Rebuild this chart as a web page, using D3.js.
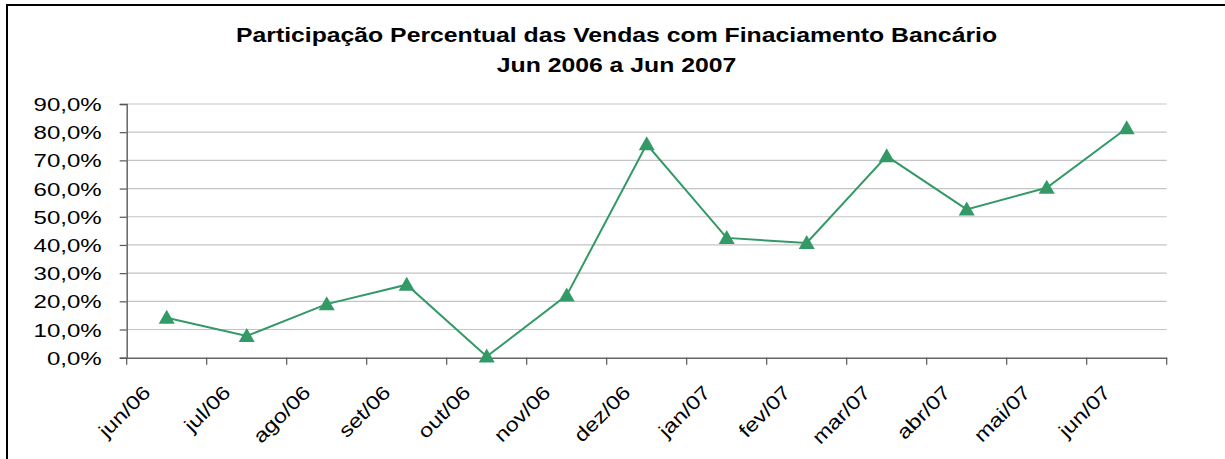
<!DOCTYPE html>
<html>
<head>
<meta charset="utf-8">
<script src="https://cdn.jsdelivr.net/npm/d3@7"></script>
<style>
  body { margin: 0; background: #fff; }
  svg { display: block; font-family: "Liberation Sans", Arial, sans-serif; }
</style>
</head>
<body>
<svg id="chart" width="1225" height="459"></svg>
<script>
(function(){
    // data ---------------------------------
    var months = ['jun/06','jul/06','ago/06','set/06','out/06','nov/06','dez/06',
                  'jan/07','fev/07','mar/07','abr/07','mai/07','jun/07'];
    var share = [14.2, 7.7, 19.0, 25.9, 0.4, 22.1, 75.7, 42.5, 40.7, 71.5, 52.6, 60.3, 81.4];
    var yTicks = [0, 10, 20, 30, 40, 50, 60, 70, 80, 90];
    var titleLines = ['Participação Percentual das Vendas com Finaciamento Bancário',
                      'Jun 2006 a Jun 2007'];

    var W = 1225, H = 459;
    var m = {left: 126.7, right: 1166.7, top: 104, bottom: 357.7};
    var SX = 1.3;   // the picture is stretched sideways
    var green = '#339966';

    var svg = d3.select('#chart');

    // outer frame
    svg.append('rect')
        .attr('x', 7).attr('y', 5)
        .attr('width', W + 20).attr('height', H + 20)
        .attr('fill', 'none')
        .attr('stroke', '#000')
        .attr('stroke-width', 2);

    var x = d3.scaleBand().domain(months).range([m.left, m.right]).padding(0);
    var y = d3.scaleLinear().domain([0, 90]).range([m.bottom, m.top]);

    // gridlines
    svg.append('g').selectAll('line')
        .data(yTicks.slice(1))
        .enter().append('line')
        .attr('x1', m.left).attr('x2', m.right)
        .attr('y1', function(d){ return y(d) }).attr('y2', function(d){ return y(d) })
        .attr('stroke', '#c4c4c4')
        .attr('stroke-width', 1.2);

    // y axis
    var yAxis = svg.append('g')
        .attr('transform', 'translate(' + m.left + ',0)')
        .call(d3.axisLeft(y).tickValues(yTicks).tickSize(7).tickPadding(0)
            .tickFormat(function(d){ return d.toFixed(1).replace('.', ',') + '%' }));
    yAxis.select('.domain').attr('stroke', '#666').attr('stroke-width', 1.5);
    yAxis.selectAll('.tick line').attr('stroke', '#555').attr('stroke-width', 1.2);
    yAxis.selectAll('.tick text')
        .attr('x', 0).attr('dy', null)
        .attr('fill', '#000')
        .style('font-size', '18.5px')
        .attr('text-anchor', 'end')
        .attr('transform', 'translate(-25,6.5) scale(' + SX + ',1)');

    // x axis
    var xAxis = svg.append('g')
        .attr('transform', 'translate(0,' + m.bottom + ')')
        .call(d3.axisBottom(x).tickSize(0).tickPadding(0));
    xAxis.select('.domain').attr('stroke', '#666').attr('stroke-width', 1.5);
    xAxis.selectAll('.tick text')
        .attr('y', 0).attr('dy', null)
        .attr('fill', '#000')
        .style('font-size', '19.5px')
        .attr('text-anchor', 'end')
        .attr('transform', 'translate(-15,36) rotate(-45) scale(1.2,1)');

    var edges = months.map(function(d){ return x(d) }).concat([m.right]);
    xAxis.selectAll('.edge')
        .data(edges)
        .enter().append('line')
        .attr('class', 'edge')
        .attr('x1', function(d){ return d }).attr('x2', function(d){ return d })
        .attr('y1', 0).attr('y2', 7)
        .attr('stroke', '#555').attr('stroke-width', 1.2);

    // series
    var cx = function(d, i){ return x(months[i]) + x.bandwidth() / 2 };
    svg.append('path')
        .datum(share)
        .attr('fill', 'none')
        .attr('stroke', green)
        .attr('stroke-width', 2)
        .attr('d', d3.line().x(cx).y(function(d){ return y(d) }));

    svg.append('g').selectAll('path')
        .data(share)
        .enter().append('path')
        .attr('d', 'M0,-8 L8,6 L-8,6 Z')
        .attr('fill', green)
        .attr('transform', function(d, i){ return 'translate(' + cx(d, i) + ',' + y(d) + ')' });

    // title
    svg.append('g').selectAll('text')
        .data(titleLines)
        .enter().append('text')
        .attr('text-anchor', 'middle')
        .attr('transform', function(d, i){
            return 'translate(616.5,' + (42 + i * 30) + ') scale(1.18,1)';
        })
        .style('font-size', '21px')
        .style('font-weight', 'bold')
        .attr('fill', '#000')
        .text(function(d){ return d });
})();
</script>
</body>
</html>
